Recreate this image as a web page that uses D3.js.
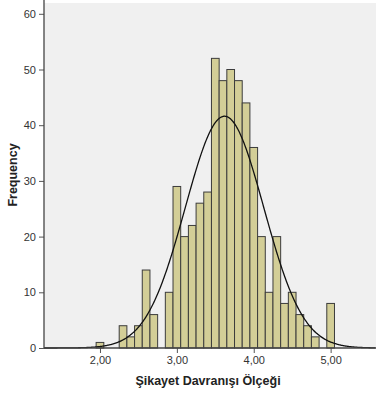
<!DOCTYPE html>
<html><head><meta charset="utf-8">
<script src="https://cdn.jsdelivr.net/npm/d3@7"></script>
<style>body{margin:0;background:#fff}svg{display:block;font-family:"Liberation Sans",Arial,sans-serif}</style>
</head><body><svg id="c" width="377" height="394"></svg>
<script>
const binCenters = [2.0,2.3,2.4,2.5,2.6,2.7,2.9,3.0,3.1,3.2,3.3,3.4,3.5,3.6,3.7,3.8,3.9,4.0,4.1,4.2,4.3,4.4,4.5,4.6,4.7,4.8,5.0];
const counts     = [1,4,2,4,14,6,10,29,20,22,26,28,52,48,50,48,44,36,20,10,20,8,10,6,4,2,8];
const binWidth = 0.1;
const xTicks = [2,3,4,5];
const xTickLabels = ["2,00","3,00","4,00","5,00"];
const yTicks = [0,10,20,30,40,50,60];
const curveMean = 3.62, curveSD = 0.51, curveN = 532;

const svg = d3.select("#c");
const L=44, R=376, T=3, B=348;
const x = d3.scaleLinear().domain([1.272,5.59]).range([L,R]);
const y = d3.scaleLinear().domain([0,62]).range([B,B-62*5.57]);

svg.append("rect").attr("x",L).attr("y",T).attr("width",R-L).attr("height",B-T).attr("fill","#f0f0f0");

const g = svg.append("g");
g.selectAll("rect.bar").data(binCenters).join("rect").attr("class","bar")
  .attr("x",d=>x(d-binWidth/2)).attr("width",d=>x(d+binWidth/2)-x(d-binWidth/2))
  .attr("y",(d,i)=>y(counts[i])).attr("height",(d,i)=>y(0)-y(counts[i]))
  .attr("fill","#d3ce97").attr("stroke","#3c3c3c").attr("stroke-width",1);

const pts = d3.range(x.domain()[0], x.domain()[1]+0.001, 0.01);
const dens = v => curveN*binWidth/(curveSD*Math.sqrt(2*Math.PI))*Math.exp(-0.5*((v-curveMean)/curveSD)**2);
g.append("path").datum(pts).attr("fill","none").attr("stroke","#111").attr("stroke-width",1.3)
  .attr("d", d3.line().x(d=>x(d)).y(d=>y(dens(d))).curve(d3.curveBasis));

const xa = svg.append("g").attr("transform",`translate(0,${B})`)
  .call(d3.axisBottom(x).tickValues(xTicks).tickFormat((d,i)=>xTickLabels[i]).tickSize(5).tickSizeOuter(0));
const ya = svg.append("g").attr("transform",`translate(${L},0)`)
  .call(d3.axisLeft(y).tickValues(yTicks).tickSize(5).tickSizeOuter(0));
[xa,ya].forEach(a=>{
  a.select(".domain").remove();
  a.selectAll("line").attr("stroke","#555");
  a.selectAll("text").attr("fill","#333").attr("font-size","11px").attr("font-family","Liberation Sans, Arial, sans-serif");
});
svg.append("line").attr("x1",L).attr("x2",R).attr("y1",B).attr("y2",B).attr("stroke","#444").attr("stroke-width",1.3);
svg.append("line").attr("x1",L).attr("x2",L).attr("y1",0).attr("y2",B).attr("stroke","#444").attr("stroke-width",1.3);

svg.append("text").attr("x",208).attr("y",385).attr("text-anchor","middle")
  .attr("font-weight","bold").attr("font-size","12.5px").attr("fill","#222").text("Şikayet Davranışı Ölçeği");
svg.append("text").attr("transform","translate(17,175) rotate(-90)").attr("text-anchor","middle")
  .attr("font-weight","bold").attr("font-size","12.5px").attr("fill","#222").text("Frequency");
</script></body></html>
